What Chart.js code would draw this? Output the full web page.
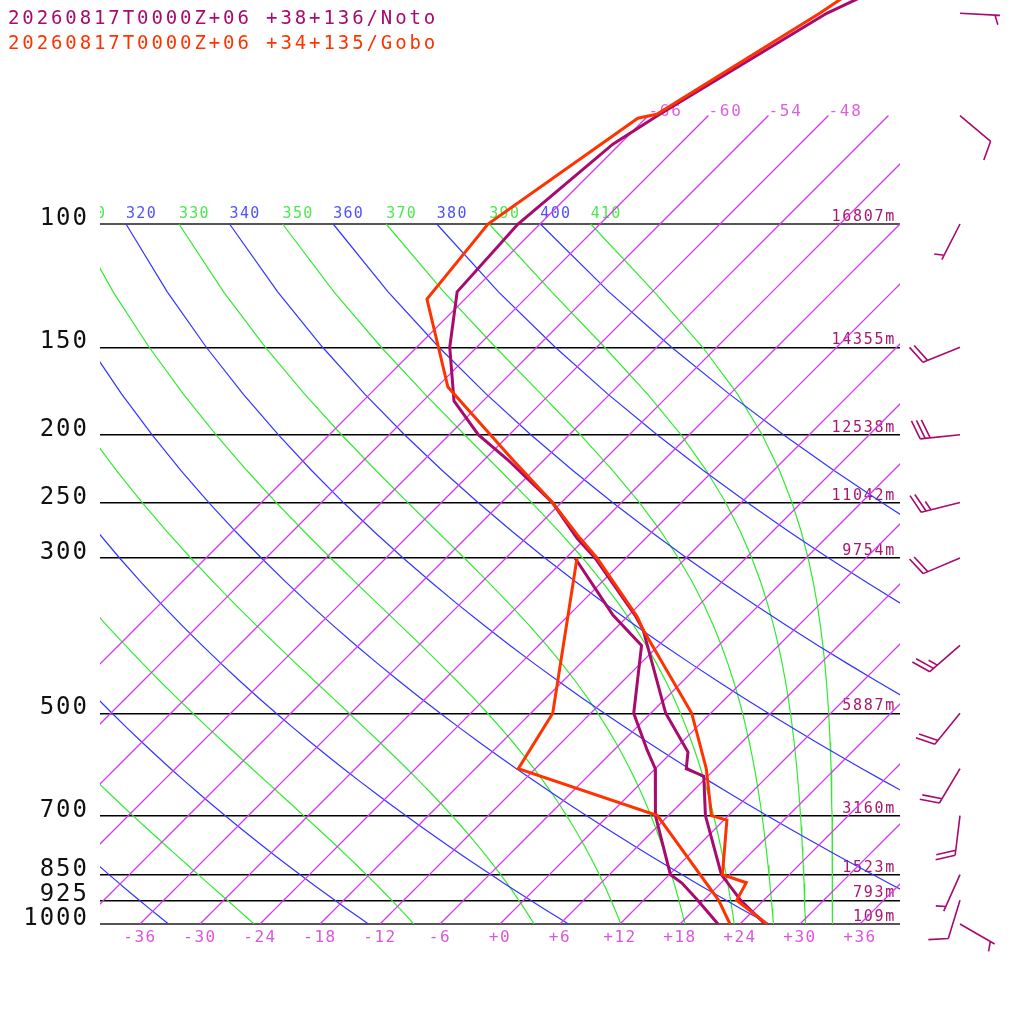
<!DOCTYPE html>
<html>
<head>
<meta charset="utf-8">
<script src="https://cdn.jsdelivr.net/npm/chart.js@4/dist/chart.umd.min.js"></script>
<style>
html, body { margin: 0; padding: 0; background: #fff; }
canvas { display: block; }
</style>
</head>
<body>
<canvas id="chart" width="1024" height="1024"></canvas>
<script>
// station headers
const stationNames = ['20260817T0000Z+06 +38+136/Noto', '20260817T0000Z+06 +34+135/Gobo'];
const colNoto = '#a80a6e';
const colGobo = '#ff3300';
const colIso = '#d03ce6';

// axes
const pressureTicks = [100, 150, 200, 250, 300, 500, 700, 850, 925, 1000];
const heightLabels = ['16807m', '14355m', '12538m', '11042m', '9754m', '5887m', '3160m', '1523m', '793m', '109m'];
const tempTicks = [-36, -30, -24, -18, -12, -6, 0, 6, 12, 18, 24, 30, 36];

// Noto sounding (hPa, degC)
const notoP  = [40, 50, 69.7, 76.9, 100, 125, 150, 179, 200, 217, 250, 281, 300, 362, 380, 500, 568, 600, 615, 700, 850, 925, 1000];
const notoT  = [-50.7, -58.4, -65.0, -66.7, -68.2, -67.5, -62.7, -56.9, -51.1, -45.7, -36.9, -30.9, -27.1, -17.4, -15.1, -4.5, 1.6, 3.1, 5.6, 9.7, 17.2, 21.7, 26.5];
const notoDP = [300, 362, 400, 500, 564, 600, 700, 850, 874, 925, 1000];
const notoTd = [-29.1, -19.6, -13.7, -7.7, -2.7, 0.0, 4.7, 12.1, 14.1, 17.4, 21.8];

// Gobo sounding (hPa, degC)
const goboP  = [40, 50, 69.7, 70.6, 100, 128, 171, 217, 250, 281, 300, 364, 380, 500, 600, 700, 710.5, 850, 873, 925, 1000];
const goboT  = [-55.8, -59.1, -65.3, -66.8, -71.2, -69.8, -58.9, -45.2, -36.9, -30.6, -26.9, -17.0, -15.1, -1.9, 5.1, 10.3, 12.3, 17.3, 20.5, 21.3, 26.7];
const goboDP = [300, 500, 600, 700, 925, 1000];
const goboTd = [-28.9, -15.8, -13.7, 4.9, 19.5, 23.0];

// Noto winds
const windP   = [50, 70, 100, 150, 200, 250, 300, 400, 500, 600, 700, 850, 925, 1000];
const windDir = [93, 130, 207, 248, 264, 256, 247, 229, 219, 211, 187, 204, 197, 120];
const windKt  = [5, 10, 5, 20, 30, 25, 20, 25, 20, 20, 20, 5, 10, 5];

const SKEW = 70;                         // degC of shift per decade of pressure
const PTOP = 1000 / Math.pow(10, 924 / 700);

function skewX(t, p) {
    return t + SKEW * Math.log10(1000 / p);
}

function thetaE(tc, p) {
    const tk = tc + 273.15;
    const es = 6.112 * Math.exp(17.67 * tc / (tc + 243.5));
    const r = 622 * es / (p - es);
    return tk * Math.pow(1000 / p, 0.2854 * (1 - 0.00028 * r)) *
        Math.exp((3.376 / tk - 0.00254) * r * (1 + 0.00081 * r));
}

function moistT(te, p) {
    let lo = -140, hi = 40;
    for (let i = 0; i < 60; i++) {
        let mid = (lo + hi) / 2;
        if (thetaE(mid, p) > te) hi = mid; else lo = mid;
    }
    return (lo + hi) / 2;
}

// background lines
let gridP = [];
for (let p = 100; p <= 1000; p += 25) gridP.push(p);
let isoP = [70, 75].concat(gridP);

let datasets = [];
let adiabatLabels = [];

for (let th = 240; th <= 400; th += 20) {
    let pts = gridP.map(p => ({x: skewX(th * Math.pow(p / 1000, 0.2857) - 273.15, p), y: p}));
    datasets.push({data: pts, borderColor: '#3434ff', borderWidth: 1.2, order: 9});
    adiabatLabels.push({text: String(th), x: pts[0].x, color: '#5050ff'});
}

for (let te = 250; te <= 410; te += 20) {
    let pts = gridP.map(p => ({x: skewX(moistT(te, p), p), y: p}));
    datasets.push({data: pts, borderColor: '#30ec30', borderWidth: 1.2, order: 9});
    adiabatLabels.push({text: String(te), x: pts[0].x, color: '#4ee84e'});
}

for (let t = -66; t <= 36; t += 6) {
    datasets.push({
        data: isoP.map(p => ({x: skewX(t, p), y: p})),
        borderColor: colIso,
        segment: {borderColor: () => colIso},
        borderWidth: 1.3,
        order: 8
    });
}

function profile(ps, ts, color, order) {
    return {
        data: ps.map((p, i) => ({x: skewX(ts[i], p), y: p})),
        borderColor: color, borderWidth: 3, order: order
    };
}

datasets.push(profile(notoP, notoT, colNoto, 2));
datasets.push(profile(notoDP, notoTd, colNoto, 2));
datasets.push(profile(goboP, goboT, colGobo, 1));
datasets.push(profile(goboDP, goboTd, colGobo, 1));

datasets.forEach(d => {
    d.showLine = true;
    d.pointRadius = 0;
    d.tension = 0;
    d.fill = false;
});

function drawBarb(ctx, cx, cy, dir, kt) {
    const rad = dir * Math.PI / 180;
    const ux = Math.sin(rad), uy = -Math.cos(rad);
    const tx = cx + ux * 40, ty = cy + uy * 40;
    const a = Math.atan2(uy, ux) + 70 * Math.PI / 180;
    const bx = Math.cos(a), by = Math.sin(a);
    ctx.beginPath();
    ctx.moveTo(cx, cy);
    ctx.lineTo(tx, ty);
    let full = Math.floor(kt / 10);
    let half = (kt % 10) >= 5 ? 1 : 0;
    let pos = (full === 0 && half) ? 5 : 0;
    for (let i = 0; i < full; i++) {
        let px = tx - ux * pos, py = ty - uy * pos;
        ctx.moveTo(px, py);
        ctx.lineTo(px + bx * 20, py + by * 20);
        pos += 5;
    }
    if (half) {
        let px = tx - ux * pos, py = ty - uy * pos;
        ctx.moveTo(px, py);
        ctx.lineTo(px + bx * 10, py + by * 10);
    }
    ctx.stroke();
}

const skewPlugin = {
    id: 'skewT',
    beforeDraw(chart) {
        chart.ctx.letterSpacing = '1.5px';
    },
    beforeDatasetsDraw(chart) {
        const {ctx, chartArea: a, scales: {x, y}} = chart;
        ctx.save();
        ctx.beginPath();
        ctx.rect(a.left, 0, a.right - a.left, a.bottom);
        ctx.clip();
        ctx.textAlign = 'left';
        ctx.textBaseline = 'alphabetic';
        ctx.font = '15px "DejaVu Sans Mono"';
        ctx.letterSpacing = '1.3px';
        let y100 = y.getPixelForValue(100);
        adiabatLabels.forEach(l => {
            ctx.fillStyle = l.color;
            ctx.fillText(l.text, x.getPixelForValue(l.x), y100 - 6);
        });
        ctx.font = '16px "DejaVu Sans Mono"';
        ctx.letterSpacing = '1.8px';
        ctx.fillStyle = '#dd60e0';
        let y70 = y.getPixelForValue(70);
        for (let t = -66; t <= 36; t += 6) {
            let px = x.getPixelForValue(skewX(t, 70));
            if (px + 36 < a.right) ctx.fillText((t > 0 ? '+' : '') + t, px, y70);
        }
        ctx.restore();

        ctx.save();
        ctx.font = '15px "DejaVu Sans Mono"';
        ctx.letterSpacing = '1.7px';
        ctx.textAlign = 'right';
        ctx.textBaseline = 'alphabetic';
        ctx.fillStyle = '#a8186e';
        pressureTicks.forEach((p, i) => {
            ctx.fillText(heightLabels[i], a.right - 4, y.getPixelForValue(p) - 3);
        });
        ctx.restore();
    },
    afterDraw(chart) {
        const {ctx, chartArea: a, scales: {y}} = chart;
        ctx.save();
        ctx.textBaseline = 'alphabetic';
        ctx.textAlign = 'left';
        ctx.font = '19px "DejaVu Sans Mono"';
        ctx.letterSpacing = '2.9px';
        ctx.fillStyle = colNoto;
        ctx.fillText(stationNames[0], 8, 24);
        ctx.fillStyle = colGobo;
        ctx.fillText(stationNames[1], 8, 49);

        ctx.font = '24px "DejaVu Sans Mono"';
        ctx.letterSpacing = '2px';
        ctx.textAlign = 'right';
        ctx.fillStyle = '#111';
        pressureTicks.forEach(p => {
            ctx.fillText(String(p), a.left - 11, y.getPixelForValue(p) + 1);
        });

        ctx.strokeStyle = colNoto;
        ctx.lineWidth = 1.6;
        windP.forEach((p, i) => {
            drawBarb(ctx, a.right + 60, y.getPixelForValue(p), windDir[i], windKt[i]);
        });
        ctx.restore();
    }
};

new Chart(document.getElementById('chart'), {
    type: 'scatter',
    data: {datasets: datasets},
    options: {
        responsive: false,
        animation: false,
        devicePixelRatio: 1,
        layout: {padding: {left: 0, right: 124, top: 0, bottom: 0}},
        plugins: {legend: {display: false}, tooltip: {enabled: false}},
        scales: {
            x: {
                type: 'linear',
                min: -40,
                max: 40,
                afterBuildTicks: s => { s.ticks = tempTicks.map(v => ({value: v})); },
                afterFit: s => { s.height = 100; },
                grid: {display: false, drawTicks: false},
                border: {display: false},
                ticks: {
                    color: '#dd55dd',
                    padding: 4,
                    maxRotation: 0,
                    autoSkip: false,
                    font: {family: 'DejaVu Sans Mono', size: 16},
                    callback: v => (v >= 0 ? '+' : '') + v
                }
            },
            y: {
                type: 'logarithmic',
                reverse: true,
                min: PTOP,
                max: 1000,
                afterBuildTicks: s => { s.ticks = pressureTicks.map(v => ({value: v})); },
                afterFit: s => { s.width = 100; },
                grid: {
                    color: c => (c.tick && (c.tick.value === 100 || c.tick.value === 1000)) ? '#555' : '#000',
                    lineWidth: c => (c.tick && (c.tick.value === 100 || c.tick.value === 1000)) ? 2 : 1.4,
                    drawTicks: false
                },
                border: {display: false},
                ticks: {display: false}
            }
        }
    },
    plugins: [skewPlugin]
});
</script>
</body>
</html>
